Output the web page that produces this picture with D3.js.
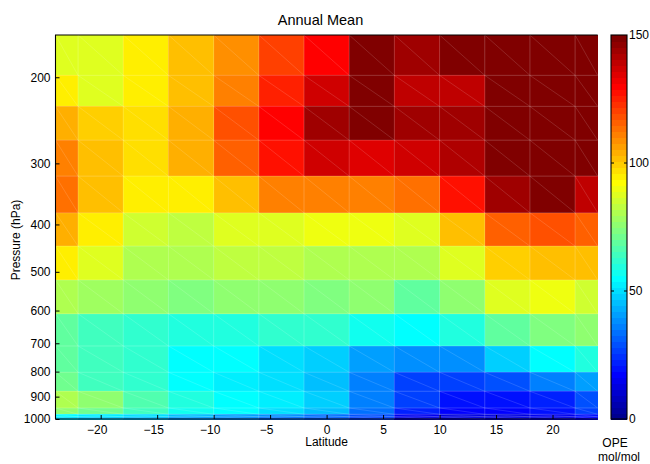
<!DOCTYPE html>
<html>
<head>
<meta charset="utf-8">
<script src="https://cdn.jsdelivr.net/npm/d3@7/dist/d3.min.js"></script>
<style>
  body { margin: 0; background: #fff; }
  text { font-family: "Liberation Sans", Arial, sans-serif; fill: #000; }
</style>
</head>
<body>
<svg id="chart" width="650" height="464"></svg>
<script>
// Latitude centres of the grid columns (degrees)
const latitudes = [-24, -20, -16, -12, -8, -4, 0, 4, 8, 12, 16, 20, 24];
// Pressure edges of the grid rows, top to bottom (hPa)
const pressureEdges = [163.9, 198.2, 229.4, 269.0, 318.6, 378.6, 443.0, 519.5, 609.1, 709.0, 802.5, 877.6, 949.5, 978.1, 989.7, 1000];
// Annual mean OPE (mol/mol), one row per pressure layer, one column per latitude
const opeValues = [
  [ 87,  88,  95, 101, 110, 120, 131, 148, 145, 148, 150, 150, 150],
  [ 94,  89,  96, 101, 112, 126, 138, 150, 139, 139, 150, 150, 150],
  [104, 100,  97, 104, 118, 130, 144, 150, 145, 145, 150, 150, 150],
  [112, 101,  98, 104, 116, 128, 136, 135, 137, 141, 150, 150, 150],
  [113, 103,  96,  96, 103, 111, 112, 112, 114, 127, 144, 150, 139],
  [104,  94,  86,  84,  87,  88,  90,  90,  89, 101, 116, 118, 116],
  [ 94,  88,  82,  82,  83,  83,  81,  80,  80,  89,  99, 103, 101],
  [ 81,  79,  75,  73,  76,  75,  73,  75,  68,  77,  87,  90,  86],
  [ 69,  64,  62,  59,  60,  62,  62,  58,  54,  60,  69,  74,  77],
  [ 69,  64,  62,  56,  56,  51,  48,  41,  39,  39,  49,  54,  60],
  [ 71,  64,  62,  56,  53,  50,  45,  37,  28,  26,  30,  36,  41],
  [ 80,  75,  66,  60,  56,  52,  47,  37,  26,  20,  21,  22,  30],
  [ 75,  72,  64,  58,  54,  50,  45,  35,  22,  17,  18,  19,  26],
  [ 55,  52,  50,  45,  40,  38,  35,  30,  15,  13,  14,  15,  20],
  [ 50,  48,  46,  42,  38,  35,  32,  28,  14,  12,  13,  14,  18]
];
const latTicks = [-20, -15, -10, -5, 0, 5, 10, 15, 20];
const pressureTicks = [200, 300, 400, 500, 600, 700, 800, 900, 1000];
const colorbarTicks = [0, 50, 100, 150];
const colorLimits = [0, 150];

const svg = d3.select("#chart");
const plot = { left: 55.5, right: 597.7, top: 35, bottom: 419 };
const halfCell = 2;

const x = d3.scaleLinear().domain([latitudes[0], latitudes[latitudes.length - 1]]).range([plot.left, plot.right]);
const y = d3.scaleLog().domain([pressureEdges[0], pressureEdges[pressureEdges.length - 1]]).range([plot.top, plot.bottom]);

// 64-level jet colormap
function jetColormap(m) {
  const n = Math.ceil(m / 4);
  const u = [];
  for (let i = 1; i <= n; i++) u.push(i / n);
  for (let i = 0; i < n - 1; i++) u.push(1);
  for (let i = n; i >= 1; i--) u.push(i / n);
  const gOff = Math.ceil(n / 2) - (m % 4 === 1 ? 1 : 0);
  const J = Array.from({ length: m }, () => [0, 0, 0]);
  u.forEach((val, k) => {
    const g = gOff + k + 1, r = g + n, b = g - n;
    if (r >= 1 && r <= m) J[r - 1][0] = val;
    if (g >= 1 && g <= m) J[g - 1][1] = val;
    if (b >= 1 && b <= m) J[b - 1][2] = val;
  });
  return J.map(c => d3.rgb(c[0] * 255, c[1] * 255, c[2] * 255).formatHex());
}
const jet = jetColormap(64);
const color = d3.scaleQuantize().domain(colorLimits).range(jet);

// Cells
const cells = [];
opeValues.forEach((row, r) => {
  row.forEach((v, c) => {
    const lat = latitudes[c];
    cells.push({
      x0: x(Math.max(latitudes[0], lat - halfCell)),
      x1: x(Math.min(latitudes[latitudes.length - 1], lat + halfCell)),
      y0: y(pressureEdges[r]),
      y1: y(pressureEdges[r + 1]),
      v
    });
  });
});

const gCells = svg.append("g");
gCells.selectAll("rect").data(cells).join("rect")
  .attr("x", d => d.x0).attr("y", d => d.y0)
  .attr("width", d => d.x1 - d.x0 + 0.5).attr("height", d => d.y1 - d.y0 + 0.5)
  .attr("fill", d => color(d.v))
  .attr("shape-rendering", "crispEdges");

// Faint facet edges and diagonals
const gFacets = svg.append("g").attr("stroke", "#fff").attr("fill", "none");
gFacets.selectAll("line.diag").data(cells).join("line").attr("class", "diag")
  .attr("x1", d => d.x0).attr("y1", d => d.y0)
  .attr("x2", d => d.x1).attr("y2", d => d.y1)
  .attr("stroke-opacity", 0.2).attr("stroke-width", 0.7);
const lonEdges = latitudes.slice(0, -1).map(l => l + halfCell);
gFacets.selectAll("line.v").data(lonEdges).join("line").attr("class", "v")
  .attr("x1", d => x(d)).attr("x2", d => x(d))
  .attr("y1", plot.top).attr("y2", plot.bottom)
  .attr("stroke-opacity", 0.25).attr("stroke-width", 0.8);
gFacets.selectAll("line.h").data(pressureEdges.slice(1, -1)).join("line").attr("class", "h")
  .attr("y1", d => y(d)).attr("y2", d => y(d))
  .attr("x1", plot.left).attr("x2", plot.right)
  .attr("stroke-opacity", 0.25).attr("stroke-width", 0.8);

// Axes
const fmt = d3.format("");
const xAxis = svg.append("g")
  .attr("transform", `translate(0,${plot.bottom})`)
  .call(d3.axisBottom(x).tickValues(latTicks).tickSize(-4).tickPadding(6).tickFormat(fmt));
xAxis.select(".domain").remove();
xAxis.selectAll(".tick text").attr("font-size", 12).attr("dx", d => d < 0 ? -4 : 0);

const yAxis = svg.append("g")
  .attr("transform", `translate(${plot.left},0)`)
  .call(d3.axisLeft(y).tickValues(pressureTicks).tickSize(-4).tickPadding(5).tickFormat(fmt));
yAxis.select(".domain").remove();
yAxis.selectAll(".tick text").attr("font-size", 12);
svg.selectAll(".tick line").attr("stroke", "#000");

// Frame
svg.append("path")
  .attr("d", `M${plot.right},${plot.top}H${plot.left}V${plot.bottom}H${plot.right}`)
  .attr("fill", "none").attr("stroke", "#000").attr("stroke-width", 1.1);

// Titles
svg.append("text").attr("x", 320.5).attr("y", 25).attr("text-anchor", "middle")
  .attr("font-size", 14.5).text("Annual Mean");
svg.append("text").attr("x", (plot.left + plot.right) / 2).attr("y", 446).attr("text-anchor", "middle")
  .attr("font-size", 12).text("Latitude");
svg.append("text").attr("transform", "translate(20,240) rotate(-90)").attr("text-anchor", "middle")
  .attr("font-size", 12).text("Pressure (hPa)");

// Colour bar
const cb = { left: 611, right: 627 };
const cy = d3.scaleLinear().domain(colorLimits).range([plot.bottom, plot.top]);
const levels = d3.range(jet.length);
const step = (colorLimits[1] - colorLimits[0]) / jet.length;
svg.append("g").selectAll("rect").data(levels).join("rect")
  .attr("x", cb.left).attr("width", cb.right - cb.left)
  .attr("y", i => cy((i + 1) * step))
  .attr("height", i => cy(i * step) - cy((i + 1) * step) + 0.5)
  .attr("fill", i => jet[i])
  .attr("shape-rendering", "crispEdges");
svg.append("rect").attr("x", cb.left).attr("y", plot.top)
  .attr("width", cb.right - cb.left).attr("height", plot.bottom - plot.top)
  .attr("fill", "none").attr("stroke", "#000").attr("stroke-width", 1.1);
const cbTicks = svg.append("g");
cbTicks.selectAll("path").data(colorbarTicks.slice(1, -1)).join("path")
  .attr("d", d => `M${cb.left},${cy(d)}h3M${cb.right},${cy(d)}h-3`)
  .attr("stroke", "#000");
cbTicks.selectAll("text").data(colorbarTicks).join("text")
  .attr("x", cb.right + 2).attr("y", d => cy(d)).attr("dy", "0.35em")
  .attr("font-size", 12).text(d => d);
svg.append("text").attr("x", 615).attr("y", 447).attr("text-anchor", "middle")
  .attr("font-size", 12).text("OPE");
svg.append("text").attr("x", 619).attr("y", 461).attr("text-anchor", "middle")
  .attr("font-size", 12).text("mol/mol");
</script>
</body>
</html>
